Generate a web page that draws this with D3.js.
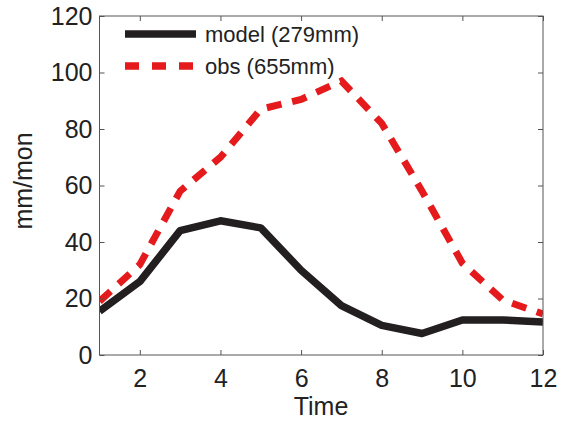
<!DOCTYPE html>
<html>
<head>
<meta charset="utf-8">
<script src="https://cdn.jsdelivr.net/npm/d3@7"></script>
<style>
  html, body { margin: 0; padding: 0; background: #fff; }
  svg { display: block; font-family: "Liberation Sans", Arial, sans-serif; }
</style>
</head>
<body>
<svg id="chart" width="566" height="425"></svg>
<script>
// data
const months = [1, 2, 3, 4, 5, 6, 7, 8, 9, 10, 11, 12];
const model = [15.5, 26, 44, 47.5, 45, 30, 17.5, 10.5, 7.6, 12.4, 12.4, 11.7];
const obs = [19, 32, 58, 70, 87, 90.5, 97, 82, 58, 32.5, 19.5, 14.5];
const xTicks = [2, 4, 6, 8, 10, 12];
const yTicks = [0, 20, 40, 60, 80, 100, 120];
const seriesNames = ["model (279mm)", "obs (655mm)"];

const svg = d3.select("#chart");
const L = 99.5, R = 543, T = 16, B = 355;
const axisColor = "#555", textColor = "#222";
const fs = "25px";

const x = d3.scaleLinear().domain([1, 12]).range([L, R]);
const y = d3.scaleLinear().domain([0, 120]).range([B, T]);

// data lines (clipped to the box like matlab)
svg.append("clipPath").attr("id", "clip")
  .append("rect").attr("x", L).attr("y", T).attr("width", R - L).attr("height", B - T);

const line = d3.line().x((d, i) => x(months[i])).y(d => y(d));
const gLines = svg.append("g").attr("clip-path", "url(#clip)");

gLines.append("path")
  .attr("d", line(obs))
  .attr("fill", "none")
  .attr("stroke", "#e41a1c")
  .attr("stroke-width", 7)
  .attr("stroke-dasharray", "15,11");

gLines.append("path")
  .attr("d", line(model))
  .attr("fill", "none")
  .attr("stroke", "#231f20")
  .attr("stroke-width", 7.5)
  .attr("stroke-linejoin", "round");

// axes: ticks inward, box on
const styleAxis = g => {
  g.select(".domain").remove();
  g.selectAll("line").attr("stroke", axisColor);
  g.selectAll("text").attr("fill", textColor)
    .style("font-size", fs).style("font-family", "Liberation Sans, Arial, sans-serif");
};

svg.append("g").attr("transform", `translate(0,${B})`)
  .call(d3.axisBottom(x).tickValues(xTicks).tickSize(-5).tickPadding(14).tickFormat(d3.format("d")))
  .call(styleAxis);
svg.append("g").attr("transform", `translate(0,${T})`)
  .call(d3.axisTop(x).tickValues(xTicks).tickSize(-5).tickFormat(""))
  .call(styleAxis);
svg.append("g").attr("transform", `translate(${L},0)`)
  .call(d3.axisLeft(y).tickValues(yTicks).tickSize(-5).tickPadding(7).tickFormat(d3.format("d")))
  .call(styleAxis);
svg.append("g").attr("transform", `translate(${R},0)`)
  .call(d3.axisRight(y).tickValues(yTicks).tickSize(-5).tickFormat(""))
  .call(styleAxis);

svg.append("rect")
  .attr("x", L).attr("y", T).attr("width", R - L).attr("height", B - T)
  .attr("fill", "none").attr("stroke", axisColor).attr("stroke-width", 1);

// axis labels
svg.append("text")
  .attr("x", 321).attr("y", 415)
  .attr("text-anchor", "middle").attr("fill", textColor)
  .style("font-size", fs).text("Time");

svg.append("text")
  .attr("transform", `translate(32,181) rotate(-90)`)
  .attr("text-anchor", "middle").attr("fill", textColor)
  .style("font-size", fs).text("mm/mon");

// legend
const legend = svg.append("g");
const legY = [34, 66];
legend.append("line")
  .attr("x1", 125).attr("x2", 196).attr("y1", legY[0]).attr("y2", legY[0])
  .attr("stroke", "#231f20").attr("stroke-width", 7.5);
legend.append("line")
  .attr("x1", 125).attr("x2", 194).attr("y1", legY[1]).attr("y2", legY[1])
  .attr("stroke", "#e41a1c").attr("stroke-width", 7.5)
  .attr("stroke-dasharray", "14,13");
seriesNames.forEach((s, i) => {
  legend.append("text")
    .attr("x", 205).attr("y", legY[i])
    .attr("dy", "0.35em").attr("fill", textColor)
    .style("font-size", "22px").text(s);
});
</script>
</body>
</html>
